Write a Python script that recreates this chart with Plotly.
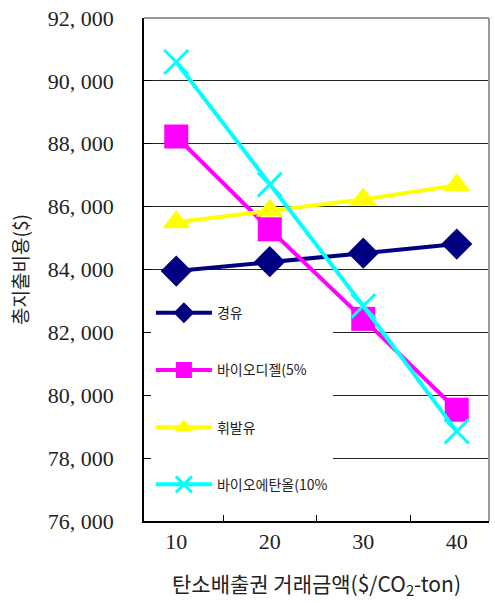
import plotly.graph_objects as go

categories = ["10", "20", "30", "40"]
diesel = [83950, 84250, 84520, 84810]
biodiesel = [88230, 85280, 82430, 79540]
gasoline = [85500, 85880, 86230, 86680]
bioethanol = [90600, 86700, 82840, 78850]

names = ["경유", "바이오디젤(5%", "휘발유", "바이오에탄올(10%"]
y_ticks = [76000, 78000, 80000, 82000, 84000, 86000, 88000, 90000, 92000]
y_ticktext = ["76, 000", "78, 000", "80, 000", "82, 000", "84, 000",
              "86, 000", "88, 000", "90, 000", "92, 000"]

colors = ["#000080", "#FF00FF", "#FFFF00", "#00FFFF"]
symbols = ["diamond", "square", "triangle-up", "x-thin"]
series = [diesel, biodiesel, gasoline, bioethanol]

fig = go.Figure()
for i, (nm, vals) in enumerate(zip(names, series)):
    marker = dict(symbol=symbols[i], size=24, color=colors[i])
    if symbols[i] == "x-thin":
        marker = dict(symbol="x-thin", size=24, color=colors[i],
                      line=dict(color=colors[i], width=3))
    fig.add_trace(go.Scatter(
        x=categories, y=vals, name=nm, mode="lines+markers",
        line=dict(color=colors[i], width=4),
        marker=marker, legendgroup=f"g{i}",
    ))

fig.update_layout(
    width=495, height=603,
    margin=dict(l=144, r=6, t=15, b=82),
    paper_bgcolor="white", plot_bgcolor="white",
    showlegend=True,
    legend=dict(
        x=0.02, y=0.445, xanchor="left", yanchor="top",
        bgcolor="white", borderwidth=0,
        font=dict(family="Noto Sans CJK KR", size=14, color="#222"),
        tracegroupgap=36, itemwidth=56,
        traceorder="grouped",
    ),
    font=dict(family="Liberation Serif", color="#222"),
)

fig.update_xaxes(
    type="category", tickson="boundaries", ticks="inside", ticklen=6,
    tickcolor="black", showline=True, linecolor="black", linewidth=1.5,
    showgrid=False, tickfont=dict(family="Liberation Serif", size=22, color="#222"),
    title=dict(text="탄소배출권 거래금액($/CO<sub>2</sub>-ton)",
               font=dict(family="Noto Sans CJK KR", size=21, color="#222"),
               standoff=24),
)
fig.update_yaxes(
    range=[76000, 92000], tickvals=y_ticks, ticktext=y_ticktext,
    ticks="inside", ticklen=7, tickcolor="black",
    showline=True, linecolor="black", linewidth=1.5,
    showgrid=True, gridcolor="#222", gridwidth=1,
    tickfont=dict(family="Liberation Serif", size=22, color="#222"),
    ticklabelstandoff=24,
    title=dict(text="총지출비용($)",
               font=dict(family="Noto Sans CJK KR", size=19, color="#222"),
               standoff=14),
)

fig.add_shape(type="line", xref="paper", yref="paper", x0=0, x1=1, y0=1, y1=1,
              line=dict(color="#999", width=2))
fig.add_shape(type="line", xref="paper", yref="paper", x0=1, x1=1, y0=0, y1=1,
              line=dict(color="#999", width=2))

fig.write_html("out.html")
